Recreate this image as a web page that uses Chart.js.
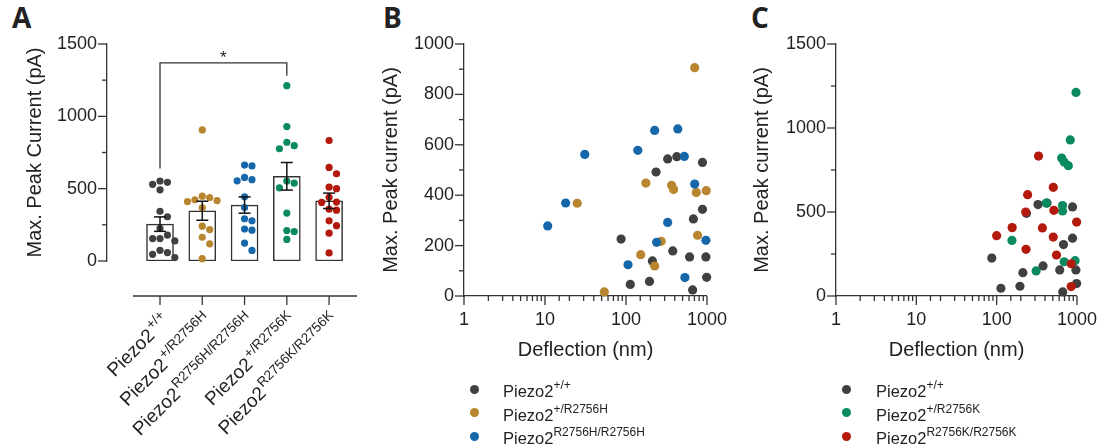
<!DOCTYPE html>
<html>
<head>
<meta charset="utf-8">
<script src="https://cdn.jsdelivr.net/npm/chart.js@4.4.1/dist/chart.umd.min.js"></script>
<style>
  html, body { margin: 0; padding: 0; background: #fff; }
  body { width: 1110px; height: 448px; position: relative; overflow: hidden; font-family: "Liberation Sans", Arial, sans-serif; color: #222; }
  canvas { position: absolute; top: 0; }
  .tag { position: absolute; top: 3px; font-family: "Open Sans", sans-serif; font-weight: 700; font-size: 28px; line-height: 1; color: #222; }
  .legend { position: absolute; top: 380px; font-size: 16.5px; line-height: 23.5px; }
  .legend div { position: relative; white-space: nowrap; }
  .legend i { position: absolute; left: 0; top: 4.5px; width: 9px; height: 9px; border-radius: 50%; }
  .legend sup { font-size: 12px; vertical-align: 8px; line-height: 0; }
</style>
</head>
<body>
<div class="tag" style="left:12px">A</div>
<div class="tag" style="left:383px">B</div>
<div class="tag" style="left:751px">C</div>
<canvas id="cA" width="370" height="448" style="left:0"></canvas>
<canvas id="cB" width="370" height="448" style="left:370px"></canvas>
<canvas id="cC" width="370" height="448" style="left:740px"></canvas>
<div class="legend" id="legB" style="left:469.5px"></div>
<div class="legend" id="legC" style="left:841.5px"></div>
<script>
// genotypes: Piezo2 superscripts
const GENOS  = ['+/+', '+/R2756H', 'R2756H/R2756H', '+/R2756K', 'R2756K/R2756K'];
const COLORS = ['#404040', '#b8862e', '#1667a9', '#0b8a5f', '#b3190c'];

// deflection (nm) and max peak current (pA) per cell
const WT_DEFL    = [87, 235, 327, 424, 880, 880, 680, 378, 610, 970, 212, 113, 195, 665, 990];
const WT_PEAK    = [226, 492, 544, 553, 530, 344, 306, 179, 155, 155, 139, 46, 58, 24, 74];
const HET_H_DEFL = [705, 25, 54, 176, 366, 387, 738, 980, 766, 272, 152, 226];
const HET_H_PEAK = [906, 368, 16, 448, 439, 423, 411, 418, 241, 217, 164, 119];
const HOM_H_DEFL = [10.8, 18, 31, 140, 226, 436, 525, 705, 327, 239, 970, 106, 534];
const HOM_H_PEAK = [278, 369, 562, 578, 657, 663, 554, 444, 292, 213, 221, 124, 73];
const HET_K_DEFL = [973, 825, 645, 693, 780, 415, 661, 661, 155, 310, 693, 947];
const HET_K_PEAK = [1212, 929, 821, 797, 776, 553, 538, 506, 331, 149, 204, 210];
const HOM_K_DEFL = [332, 507, 243, 230, 516, 100, 156, 371, 507, 990, 232, 556, 848, 848];
const HOM_K_PEAK = [833, 647, 603, 500, 510, 359, 407, 405, 351, 440, 278, 244, 192, 56];

const DEFL = [WT_DEFL, HET_H_DEFL, HOM_H_DEFL, HET_K_DEFL, HOM_K_DEFL];
const PEAK = [WT_PEAK, HET_H_PEAK, HOM_H_PEAK, HET_K_PEAK, HOM_K_PEAK];

// significance bracket (pA): WT vs +/R2756K
const SIG_FROM = 0, SIG_TO = 3, SIG_Y = 1370, SIG_LEFT_END = 640, SIG_RIGHT_END = 1280;

const FONT = '"Liberation Sans", Arial, sans-serif';
const INK  = '#222';
const AXIS = '#333';
Chart.defaults.font.family = FONT;
Chart.defaults.color = INK;

const mean = a => a.reduce((s, v) => s + v, 0) / a.length;
const sem  = a => { const m = mean(a); return Math.sqrt(a.reduce((s, v) => s + (v - m) ** 2, 0) / (a.length - 1) / a.length); };
const isPow10 = v => Math.abs(Math.log10(v) - Math.round(Math.log10(v))) < 1e-9;

// simple beeswarm: spread points sideways so they don't overlap
function swarm(values, gi) {
  const PX_X = 42.25, PX_Y = 217 / 1500, D = 7.4;
  const placed = [], out = [];
  values.map((v, i) => i).sort((a, b) => values[b] - values[a]).forEach(i => {
    const y = values[i] * PX_Y;
    for (let k = 0; ; k++) {
      const off = (k % 2 ? 1 : -1) * Math.ceil(k / 2) * D;
      if (placed.every(p => Math.hypot(p.x - off, p.y - y) >= D)) {
        placed.push({ x: off, y });
        out[i] = { x: gi + off / PX_X, y: values[i] };
        break;
      }
    }
  });
  return out;
}

function line(ctx, x1, y1, x2, y2) { ctx.beginPath(); ctx.moveTo(x1, y1); ctx.lineTo(x2, y2); ctx.stroke(); }

// ── tick marks: long for labelled values, short for minor ones ────────────
const tickMarks = {
  id: 'tickMarks',
  afterDraw(chart, args, opts) {
    const { ctx, chartArea: area } = chart;
    const { x, y } = chart.scales;
    ctx.save();
    ctx.strokeStyle = AXIS; ctx.lineWidth = 1.3;
    y.ticks.forEach(t => {
      const p = y.getPixelForValue(t.value);
      line(ctx, area.left - (t.value % opts.yMajor ? 5 : 9), p, area.left, p);
    });
    if (opts.logX) {
      x.ticks.forEach(t => {
        const p = x.getPixelForValue(t.value);
        line(ctx, p, area.bottom, p, area.bottom + (isPow10(t.value) ? 9 : 5));
      });
    }
    ctx.restore();
  },
};

// ── panel A extras: detached x axis, rotated labels, error bars, bracket ──
const panelA = {
  id: 'panelA',
  afterDatasetsDraw(chart) {
    const { ctx, chartArea: area } = chart;
    const { x, y } = chart.scales;
    ctx.save();
    ctx.strokeStyle = '#111'; ctx.lineWidth = 1.5;
    PEAK.forEach((vals, i) => {
      const px = x.getPixelForValue(i), m = mean(vals), e = sem(vals);
      const top = y.getPixelForValue(m + e), bot = y.getPixelForValue(m - e);
      line(ctx, px, top, px, bot);
      line(ctx, px - 6, top, px + 6, top);
      line(ctx, px - 6, bot, px + 6, bot);
    });
    // bracket
    const bx1 = x.getPixelForValue(SIG_FROM), bx2 = x.getPixelForValue(SIG_TO), by = y.getPixelForValue(SIG_Y);
    ctx.lineWidth = 1.3; ctx.strokeStyle = AXIS;
    ctx.beginPath();
    ctx.moveTo(bx1, y.getPixelForValue(SIG_LEFT_END)); ctx.lineTo(bx1, by);
    ctx.lineTo(bx2, by); ctx.lineTo(bx2, y.getPixelForValue(SIG_RIGHT_END));
    ctx.stroke();
    ctx.fillStyle = INK; ctx.font = `17px ${FONT}`; ctx.textAlign = 'center'; ctx.textBaseline = 'alphabetic';
    ctx.fillText('*', (bx1 + bx2) / 2, by);
    // detached category axis
    const ay = area.bottom + 35;
    line(ctx, x.getPixelForValue(-0.64), ay, area.right, ay);
    GENOS.forEach((g, i) => {
      const px = x.getPixelForValue(i);
      line(ctx, px, ay, px, ay + 9);
      ctx.save();
      ctx.translate(px + 5, ay + 20);
      ctx.rotate(-Math.PI / 4);
      ctx.textAlign = 'right';
      ctx.font = `13.5px ${FONT}`;
      const w = ctx.measureText(g).width;
      ctx.fillText(g, 0, 0);
      ctx.font = `19px ${FONT}`;
      ctx.fillText('Piezo2', -w - 1.5, 8);
      ctx.restore();
    });
    ctx.restore();
  },
};

new Chart(document.getElementById('cA'), {
  type: 'bar',
  data: {
    datasets: [
      ...PEAK.map((vals, i) => ({
        type: 'scatter', data: swarm(vals, i), backgroundColor: COLORS[i],
        borderWidth: 0, pointRadius: 3.6, order: 1, clip: false,
      })),
      {
        type: 'bar', data: PEAK.map((vals, i) => ({ x: i, y: mean(vals) })),
        backgroundColor: '#fff', borderColor: '#333', borderWidth: 1.5, borderSkipped: false,
        barThickness: 27, order: 2,
      },
    ],
  },
  options: {
    responsive: false, animation: false, events: [],
    layout: { padding: { top: 44, right: 13, left: 0, bottom: 0 } },
    plugins: { legend: { display: false }, tooltip: { enabled: false }, tickMarks: { yMajor: 500, logX: false } },
    scales: {
      x: {
        type: 'linear', min: -1.254, max: 4.66, offset: false,
        ticks: { display: false }, grid: { display: false }, border: { display: false },
        afterFit: s => { s.height = 187; },
      },
      y: {
        min: 0, max: 1500,
        ticks: { stepSize: 250, callback: v => (v % 500 ? '' : v), padding: 10, font: { size: 18 }, color: INK },
        grid: { display: false, drawTicks: false },
        border: { color: AXIS, width: 1.3 },
        title: { display: true, text: 'Max. Peak Current (pA)', font: { size: 20 }, padding: { top: 23 }, color: INK },
        afterFit: s => { s.width = 107; },
      },
    },
  },
  plugins: [tickMarks, panelA],
});

// ── panels B and C: peak current vs deflection ────────────────────────────
function scatterPanel(id, groups, yMax, yStep, yMajor, yWidth, padRight, titlePad) {
  new Chart(document.getElementById(id), {
    type: 'scatter',
    data: {
      datasets: groups.map((g, k) => ({
        data: DEFL[g].map((d, i) => ({ x: d, y: PEAK[g][i] })),
        backgroundColor: COLORS[g], borderWidth: 0, pointRadius: 4.6,
        order: groups.length - k, clip: false,
      })),
    },
    options: {
      responsive: false, animation: false, events: [],
      layout: { padding: { top: 44, right: padRight, left: 0, bottom: 0 } },
      plugins: { legend: { display: false }, tooltip: { enabled: false }, tickMarks: { yMajor, logX: true } },
      scales: {
        x: {
          type: 'logarithmic', min: 1, max: 1000,
          ticks: { autoSkip: false, maxRotation: 0, callback: v => (isPow10(v) ? String(v) : ''), padding: 13, font: { size: 18 }, color: INK },
          grid: { display: false, drawTicks: false },
          border: { color: AXIS, width: 1.3 },
          title: { display: true, text: 'Deflection (nm)', font: { size: 20 }, padding: { bottom: 86 }, color: INK },
          afterFit: s => { s.height = 152; },
        },
        y: {
          min: 0, max: yMax,
          ticks: { stepSize: yStep, callback: v => (v % yMajor ? '' : v), padding: 10, font: { size: 18 }, color: INK },
          grid: { display: false, drawTicks: false },
          border: { color: AXIS, width: 1.3 },
          title: { display: true, text: 'Max. Peak current (pA)', font: { size: 20 }, padding: { top: titlePad }, color: INK },
          afterFit: s => { s.width = yWidth; },
        },
      },
    },
    plugins: [tickMarks],
  });
}

scatterPanel('cB', [0, 1, 2], 1000, 100, 200, 94, 26, 9);
scatterPanel('cC', [0, 3, 4], 1500, 250, 500, 96, 23, 10.5);

function legend(id, groups, pad) {
  document.getElementById(id).innerHTML = groups.map(g =>
    `<div style="padding-left:${pad}px"><i style="background:${COLORS[g]}"></i>Piezo2<sup>${GENOS[g]}</sup></div>`
  ).join('');
}
legend('legB', [0, 1, 2], 33.5);
legend('legC', [0, 3, 4], 34.5);
</script>
</body>
</html>
